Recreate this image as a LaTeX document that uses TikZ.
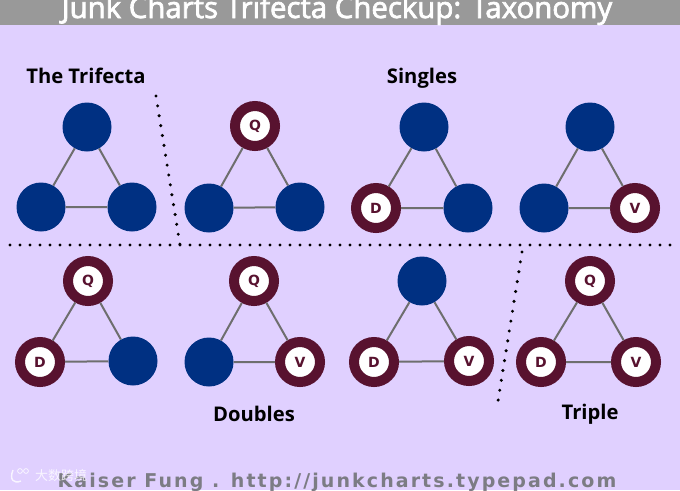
\documentclass[tikz,border=0pt]{standalone}
\usepackage{fontspec}
\setmainfont{Open Sans}
\newfontfamily\titlefont[FakeBold=2.5]{Open Sans}
\newfontfamily\markfont{DejaVu Sans}
\newfontfamily\footfont[LetterSpace=11]{DejaVu Sans}
\newfontfamily\cjkfont{Noto Sans CJK SC}
\usetikzlibrary{positioning,arrows.meta}
\definecolor{lilac}{HTML}{E0D0FF}
\definecolor{headgray}{HTML}{999999}
\definecolor{navy}{HTML}{003082}
\definecolor{wine}{HTML}{58122F}
\definecolor{linkgray}{HTML}{6E6E6E}
\definecolor{footgray}{HTML}{7C7C84}
\tikzset{
  plain/.style={circle,fill=navy,minimum size=49,inner sep=0},
  ringed/.style={circle,draw=wine,line width=10,fill=white,minimum size=40,inner sep=0,text=wine,font=\markfont\bfseries\fontsize{14}{14}\selectfont},
  link/.style={linkgray,line width=2},
  sep/.style={line width=3.4,line cap=round,dash pattern=on 0pt off 10pt},
  grouplabel/.style={font=\fontsize{20.2}{21}\selectfont\bfseries,text=black,inner sep=0}
}
\begin{document}
\begin{tikzpicture}[x=1pt,y=-1pt]
\clip (0,0) rectangle (680,490);
\fill[lilac] (0,0) rectangle (680,490);
\fill[headgray] (0,0) rectangle (680,25);
\node[text=white,inner sep=0,anchor=base] (title) at (337,18) {\titlefont\fontsize{29.4}{30}\selectfont Junk Charts Trifecta Checkup: Taxonomy};
% group labels
\node[grouplabel,anchor=base] (trifecta) at (86,83) {The Trifecta};
\node[grouplabel,anchor=base] (singles) at (422,83) {Singles};
\node[grouplabel,anchor=base] (doubles) at (254,421) {Doubles};
\node[grouplabel,anchor=base] (triple) at (590,419) {Triple};
% dotted separators
\coordinate (hl) at (10,245);
\coordinate (hr) at (673,245);
\coordinate (dla) at (156,96);
\coordinate (dlb) at (180,245);
\coordinate (dra) at (522,252);
\coordinate (drb) at (498,401);
\draw[sep] (hl) -- (hr);
\draw[sep] (dla) -- (dlb);
\draw[sep] (dra) -- (drb);
% the trifecta
\node[plain] (aq) at (87,127) {};
\node[plain] (ad) at (41,207) {};
\node[plain] (av) at (132,207) {};
\draw[link] (aq) -- (ad) (ad) -- (av) (av) -- (aq);
% singles
\node[ringed] (bq) at (255,126) {Q};
\node[plain] (bd) at (209,208) {};
\node[plain] (bv) at (300,207) {};
\draw[link] (bq) -- (bd) (bd) -- (bv) (bv) -- (bq);
\node[plain] (cq) at (424,127) {};
\node[ringed] (cd) at (376,208) {D};
\node[plain] (cv) at (468,208) {};
\draw[link] (cq) -- (cd) (cd) -- (cv) (cv) -- (cq);
\node[plain] (dq) at (590,127) {};
\node[plain] (dd) at (544,208) {};
\node[ringed] (dv) at (635,208) {V};
\draw[link] (dq) -- (dd) (dd) -- (dv) (dv) -- (dq);
% doubles
\node[ringed] (eq) at (88,281) {Q};
\node[ringed] (ed) at (40,362) {D};
\node[plain] (ev) at (133,361) {};
\draw[link] (eq) -- (ed) (ed) -- (ev) (ev) -- (eq);
\node[ringed] (fq) at (254,281) {Q};
\node[plain] (fd) at (209,362) {};
\node[ringed] (fv) at (300,362) {V};
\draw[link] (fq) -- (fd) (fd) -- (fv) (fv) -- (fq);
\node[plain] (gq) at (422,281) {};
\node[ringed] (gd) at (374,362) {D};
\node[ringed] (gv) at (469,361) {V};
\draw[link] (gq) -- (gd) (gd) -- (gv) (gv) -- (gq);
% triple
\node[ringed] (hq) at (590,281) {Q};
\node[ringed] (hd) at (541,362) {D};
\node[ringed] (hv) at (636,362) {V};
\draw[link] (hq) -- (hd) (hd) -- (hv) (hv) -- (hq);
% footer
\node[text=footgray,inner sep=0,anchor=base] (foot) at (337,487) {\footfont\bfseries\fontsize{19}{20}\selectfont Kaiser Fung . http://junkcharts.typepad.com};
\node[text=white,inner sep=0,anchor=west,opacity=.8] (mark) at (35,476) {\cjkfont\fontsize{13}{13}\selectfont 大数跨境};
% watermark logo
\draw[white,opacity=.8,line width=1.4] (13,470) .. controls (9,480) and (14,484) .. (21,481);
\draw[white,opacity=.8,line width=.8] (20,471) circle (2.4) (26,471) circle (2.4);
\end{tikzpicture}
\end{document}
